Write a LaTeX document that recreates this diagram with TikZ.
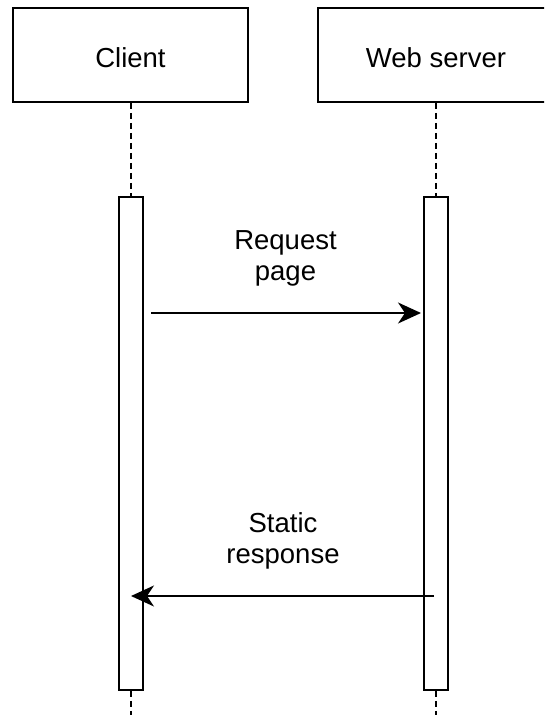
\documentclass[tikz,border=0pt]{standalone}
\usepackage{fontspec}
\setmainfont{Liberation Sans}
\usetikzlibrary{arrows.meta}
\begin{document}
\begin{tikzpicture}[x=1pt,y=-1pt,
  every node/.style={font=\fontsize{27.5}{31}\selectfont},
  actor/.style={draw, line width=1.8pt, fill=white, inner sep=0, text height=25pt, text depth=0pt},
  activation/.style={draw, line width=1.8pt, fill=white, minimum width=24pt, minimum height=493pt, inner sep=0},
  lifeline/.style={line width=1.8pt, dash pattern=on 6pt off 4pt},
  message/.style={line width=1.8pt, -{Stealth[length=23pt, width=21pt, inset=7pt]}},
  msglabel/.style={align=center, inner sep=0}]
  \clip (0,0) rectangle (544,715);
  \fill[white] (0,0) rectangle (544,715);

  % participants
  \node[actor, minimum width=235pt, minimum height=94pt] (client) at (130.5,55) {Client};
  \node[actor, minimum width=236pt, minimum height=94pt] (server) at (436,55) {Web server};

  % lifeline ends at the bottom edge
  \coordinate (cend) at (131,715);
  \coordinate (send) at (436,715);

  % activation bars
  \node[activation] (cbar) at (131,443.5) {};
  \node[activation] (sbar) at (436,443.5) {};

  % dashed lifelines
  \draw[lifeline] (client.south -| cbar.north) -- (cbar.north);
  \draw[lifeline] (server.south -| sbar.north) -- (sbar.north);
  \draw[lifeline] (cbar.south) -- (cend);
  \draw[lifeline] (sbar.south) -- (send);

  % messages
  \coordinate (req-start) at (151,313);
  \coordinate (req-end) at (421,313);
  \coordinate (resp-start) at (434,596);
  \coordinate (resp-end) at (131,596);
  \draw[message] (req-start) -- (req-end);
  \draw[message] (resp-start) -- (resp-end);

  \node[msglabel] (reqlabel) at (285.5,258) {Request\\page};
  \node[msglabel] (resplabel) at (283,541) {Static\\response};
\end{tikzpicture}
\end{document}
